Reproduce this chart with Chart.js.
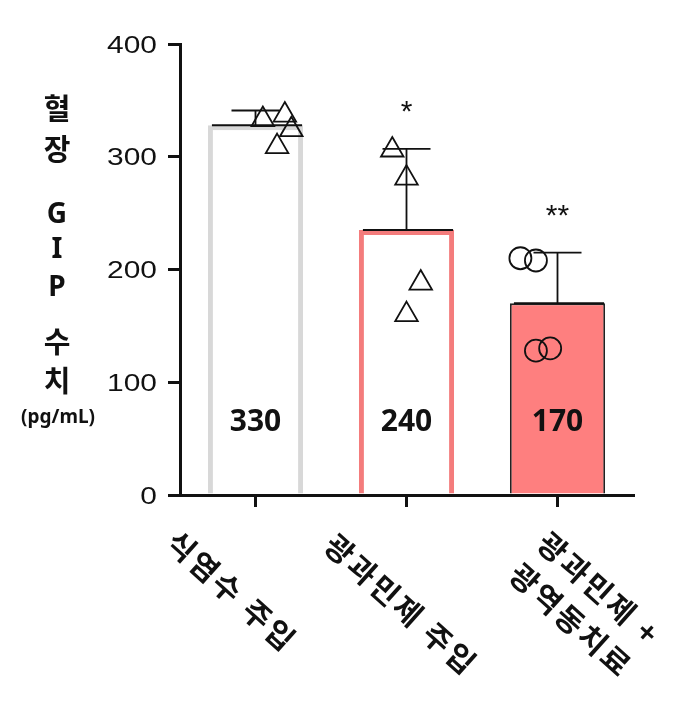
<!DOCTYPE html>
<html>
<head>
<meta charset="utf-8">
<script src="https://cdn.jsdelivr.net/npm/chart.js@4/dist/chart.umd.min.js"></script>
<style>
  html, body { margin: 0; padding: 0; background: #fff; }
  #wrap { width: 700px; height: 701px; }
</style>
</head>
<body>
<div id="wrap"><canvas id="gip-chart" width="700" height="701"></canvas></div>
<script>
// groups and summary values
const groups = ['식염수 주입', '광과민제 주입', ['광과민제 +', '광역동치료']];
const means = [328, 235, 170];
const errUpper = [341, 307, 215];
const valueLabels = ['330', '240', '170'];
const stars = ['', '*', '**'];
const yTicks = [0, 100, 200, 300, 400];

// individual animals (x = small jitter around the group index)
const salineX = [-0.11, 0.06, 0.11, 0.0];
const salineY = [333, 337, 324, 309];
const psX = [-0.11, 0.0, 0.11, 0.0];
const psY = [306, 281, 188, 160];
const pdtX = [-0.12, 0.0, 0.0, 0.11];
const pdtY = [210, 208, 128, 130];

const barFill = ['#ffffff', '#ffffff', '#fe7f7f'];
const barBorder = ['#d8d8d8', '#f47c7c', '#222222'];

function pts(xs, ys, base) {
    return ys.map((y, i) => ({ x: base + xs[i], y: y }));
}

// center text on its real glyph box
function centerText(ctx, txt, x, y) {
    const m = ctx.measureText(txt);
    ctx.textBaseline = 'alphabetic';
    ctx.fillText(txt, x, y + (m.actualBoundingBoxAscent - m.actualBoundingBoxDescent) / 2);
}

const errorBars = {
    id: 'errorBars',
    afterDatasetDraw(chart, args) {
        if (args.index !== 3) return;
        const ctx = chart.ctx;
        const y = chart.scales.y;
        ctx.save();
        ctx.strokeStyle = '#111';
        args.meta.data.forEach((bar, i) => {
            const half = bar.width / 2;
            const top = y.getPixelForValue(errUpper[i]);
            ctx.lineWidth = 2;
            ctx.beginPath();
            ctx.moveTo(bar.x - half + 4, bar.y);
            ctx.lineTo(bar.x + half - 1, bar.y);
            ctx.stroke();
            ctx.lineWidth = 1.8;
            ctx.beginPath();
            ctx.moveTo(bar.x, bar.y);
            ctx.lineTo(bar.x, top);
            ctx.moveTo(bar.x - 24, top);
            ctx.lineTo(bar.x + 24, top);
            ctx.stroke();
        });
        ctx.restore();
    }
};

const annotations = {
    id: 'annotations',
    afterDraw(chart) {
        const ctx = chart.ctx;
        const x = chart.scales.x;
        const y = chart.scales.y;
        const bottom = y.getPixelForValue(0);
        ctx.save();
        ctx.fillStyle = '#111';

        // y tick labels, a little wide like the original
        ctx.font = '23px "Liberation Sans"';
        ctx.textAlign = 'right';
        yTicks.forEach(v => {
            ctx.save();
            ctx.translate(157, y.getPixelForValue(v));
            ctx.scale(1.3, 1);
            centerText(ctx, String(v), 0, 0);
            ctx.restore();
        });

        ctx.textAlign = 'center';
        // numbers inside the bars
        ctx.font = 'bold 30px "Noto Sans"';
        valueLabels.forEach((t, i) => centerText(ctx, t, x.getPixelForValue(i), bottom - 75));

        // significance marks
        ctx.font = '30px "Liberation Sans"';
        stars.forEach((t, i) => {
            if (t) centerText(ctx, t, x.getPixelForValue(i), y.getPixelForValue(errUpper[i]) - 42);
        });

        // stacked y-axis title
        const titleRows = [['혈', 108], ['장', 148], ['G', 212], ['I', 247], ['P', 285], ['수', 342], ['치', 380]];
        titleRows.forEach(r => {
            ctx.font = /[A-Z]/.test(r[0]) ? 'bold 28px "Noto Sans"' : 'bold 29px "Noto Sans CJK KR"';
            centerText(ctx, r[0], 57, r[1]);
        });
        ctx.font = 'bold 19px "Noto Sans"';
        centerText(ctx, '(pg/mL)', 58, 418);

        // slanted category labels
        const starts = [[-84, 42], [-77, 45], [-15, 43]];
        ctx.font = 'bold 30px "Noto Sans CJK KR"';
        ctx.letterSpacing = '3px';
        ctx.textAlign = 'left';
        ctx.textBaseline = 'middle';
        groups.forEach((g, i) => {
            const lines = Array.isArray(g) ? g : [g];
            ctx.save();
            ctx.translate(x.getPixelForValue(i) + starts[i][0], bottom + starts[i][1]);
            ctx.rotate(42 * Math.PI / 180);
            lines.forEach((ln, k) => ctx.fillText(ln, 0, k * 42));
            ctx.restore();
        });
        ctx.restore();
    }
};

const pointStyle = {
    type: 'scatter',
    xAxisID: 'xp',
    showLine: false,
    backgroundColor: 'rgba(0,0,0,0)',
    borderColor: '#111',
    borderWidth: 1.8,
    order: 0
};

new Chart(document.getElementById('gip-chart'), {
    type: 'bar',
    data: {
        labels: groups,
        datasets: [
            Object.assign({ data: pts(salineX, salineY, 0), pointStyle: 'triangle', pointRadius: 13 }, pointStyle),
            Object.assign({ data: pts(psX, psY, 1), pointStyle: 'triangle', pointRadius: 13 }, pointStyle),
            Object.assign({ data: pts(pdtX, pdtY, 2), pointStyle: 'circle', pointRadius: 11 }, pointStyle),
            {
                type: 'bar',
                data: means,
                backgroundColor: barFill,
                borderColor: barBorder,
                borderWidth: [5, 5, 1.8],
                barPercentage: 0.63,
                categoryPercentage: 1,
                grouped: false,
                order: 1
            }
        ]
    },
    options: {
        responsive: false,
        animation: false,
        layout: { padding: { top: 44, right: 67, bottom: 194, left: 0 } },
        plugins: { legend: { display: false }, tooltip: { enabled: false } },
        scales: {
            x: {
                grid: { offset: false, drawOnChartArea: false, drawTicks: true, tickLength: 12, color: '#111', lineWidth: 3 },
                border: { color: '#111', width: 3 },
                ticks: { display: false }
            },
            xp: { type: 'linear', display: false, min: -0.5, max: 2.5 },
            y: {
                min: 0,
                max: 400,
                afterBuildTicks(scale) { scale.ticks = yTicks.map(v => ({ value: v })); },
                afterFit(scale) { scale.width = 180; },
                grid: { drawOnChartArea: false, drawTicks: true, tickLength: 12, color: '#111', lineWidth: 3 },
                border: { color: '#111', width: 3 },
                ticks: { display: false }
            }
        }
    },
    plugins: [errorBars, annotations]
});
</script>
</body>
</html>
